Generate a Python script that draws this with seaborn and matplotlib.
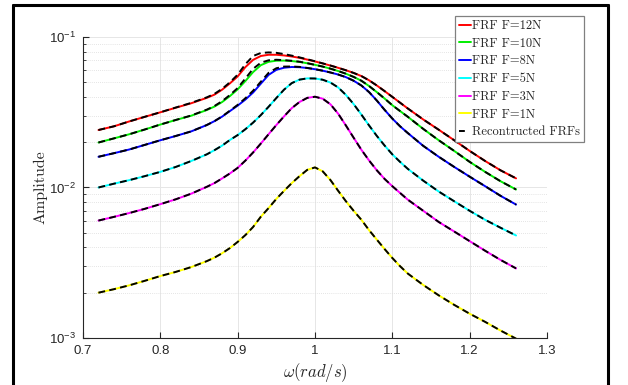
import numpy as np
import pandas as pd
import matplotlib
matplotlib.use("Agg")
import matplotlib.pyplot as plt
from matplotlib.lines import Line2D
from matplotlib.ticker import LogLocator, NullFormatter
import seaborn as sns

# ---------------- data ----------------
freq = [0.72, 0.74, 0.76, 0.78, 0.80, 0.82, 0.84, 0.86, 0.87, 0.88, 0.89, 0.90,
        0.91, 0.92, 0.93, 0.94, 0.95, 0.96, 0.97, 0.98, 0.99, 1.00, 1.01, 1.02,
        1.03, 1.04, 1.05, 1.06, 1.07, 1.08, 1.09, 1.10, 1.11, 1.12, 1.14, 1.16,
        1.18, 1.20, 1.22, 1.24, 1.26]

frf_12N = [0.0241, 0.0255, 0.0275, 0.0295, 0.0316, 0.0339, 0.0363, 0.0394, 0.0414, 0.0447, 0.0492, 0.0547,
           0.0631, 0.0705, 0.0748, 0.0762, 0.0762, 0.0754, 0.0742, 0.0727, 0.0708, 0.0688, 0.0667, 0.0646,
           0.0624, 0.0601, 0.0577, 0.0550, 0.0515, 0.0476, 0.0437, 0.0400, 0.0366, 0.0335, 0.0283, 0.0242,
           0.0206, 0.0175, 0.0150, 0.0130, 0.0115]
frf_10N = [0.0199, 0.0212, 0.0226, 0.0243, 0.0262, 0.0281, 0.0300, 0.0327, 0.0345, 0.0370, 0.0405, 0.0449,
           0.0510, 0.0585, 0.0650, 0.0684, 0.0696, 0.0697, 0.0692, 0.0683, 0.0669, 0.0653, 0.0636, 0.0616,
           0.0594, 0.0570, 0.0543, 0.0512, 0.0472, 0.0430, 0.0390, 0.0352, 0.0322, 0.0295, 0.0245, 0.0206,
           0.0175, 0.0148, 0.0127, 0.0110, 0.0097]
frf_8N = [0.0160, 0.0169, 0.0179, 0.0192, 0.0206, 0.0220, 0.0236, 0.0260, 0.0276, 0.0296, 0.0322, 0.0350,
          0.0384, 0.0428, 0.0490, 0.0560, 0.0605, 0.0625, 0.0632, 0.0630, 0.0622, 0.0611, 0.0597, 0.0581,
          0.0563, 0.0541, 0.0512, 0.0476, 0.0430, 0.0378, 0.0328, 0.0287, 0.0255, 0.0230, 0.0189, 0.0160,
          0.0137, 0.0118, 0.0102, 0.0088, 0.0077]
frf_5N = [0.0100, 0.0106, 0.0112, 0.0119, 0.0127, 0.0137, 0.0150, 0.0166, 0.0177, 0.0190, 0.0207, 0.0223,
          0.0244, 0.0270, 0.0303, 0.0344, 0.0393, 0.0447, 0.0494, 0.0521, 0.0531, 0.0530, 0.0520, 0.0498,
          0.0462, 0.0412, 0.0358, 0.0305, 0.0258, 0.0220, 0.0190, 0.0166, 0.0148, 0.0133, 0.0111, 0.0094,
          0.0081, 0.0070, 0.0061, 0.0054, 0.0048]
frf_3N = [0.00603, 0.00638, 0.00677, 0.00722, 0.00775, 0.00835, 0.0091, 0.0101, 0.0107, 0.0115, 0.0124, 0.0135,
          0.0151, 0.0171, 0.0196, 0.0226, 0.0260, 0.0297, 0.0337, 0.0370, 0.0394, 0.0401, 0.0389, 0.0357,
          0.0309, 0.0258, 0.0214, 0.0178, 0.0151, 0.0130, 0.0114, 0.0102, 0.0092, 0.0083, 0.0070, 0.0059,
          0.0051, 0.0044, 0.0038, 0.0033, 0.0029]
frf_1N = [0.00200, 0.00211, 0.00224, 0.00240, 0.00258, 0.00275, 0.00296, 0.00324, 0.00342, 0.00366, 0.00396, 0.00435,
          0.00483, 0.00547, 0.0064, 0.0073, 0.0084, 0.0095, 0.0107, 0.0119, 0.0131, 0.0136, 0.0128, 0.0112,
          0.0095, 0.0081, 0.0070, 0.0061, 0.0052, 0.0045, 0.0039, 0.0034, 0.0030, 0.00268, 0.00225, 0.00192,
          0.00166, 0.00145, 0.00128, 0.00112, 0.00099]

# reconstructed FRFs (slightly different near the peaks for the large forces)
rec_12N = [0.0241, 0.0255, 0.0275, 0.0295, 0.0316, 0.0340, 0.0365, 0.0397, 0.0419, 0.0453, 0.0500, 0.0562,
           0.0660, 0.0748, 0.0783, 0.0790, 0.0785, 0.0770, 0.0752, 0.0732, 0.0711, 0.0690, 0.0668, 0.0646,
           0.0624, 0.0601, 0.0577, 0.0550, 0.0515, 0.0476, 0.0437, 0.0400, 0.0366, 0.0335, 0.0283, 0.0242,
           0.0206, 0.0175, 0.0150, 0.0130, 0.0115]
rec_10N = [0.0199, 0.0212, 0.0226, 0.0243, 0.0262, 0.0281, 0.0301, 0.0329, 0.0348, 0.0375, 0.0412, 0.0458,
           0.0530, 0.0615, 0.0675, 0.0700, 0.0706, 0.0702, 0.0695, 0.0685, 0.0670, 0.0653, 0.0636, 0.0616,
           0.0594, 0.0570, 0.0543, 0.0512, 0.0472, 0.0430, 0.0390, 0.0352, 0.0322, 0.0295, 0.0245, 0.0206,
           0.0175, 0.0148, 0.0127, 0.0110, 0.0097]
rec_8N = [0.0160, 0.0169, 0.0179, 0.0192, 0.0206, 0.0220, 0.0236, 0.0260, 0.0276, 0.0297, 0.0324, 0.0354,
          0.0392, 0.0440, 0.0505, 0.0578, 0.0620, 0.0636, 0.0637, 0.0633, 0.0623, 0.0611, 0.0597, 0.0581,
          0.0563, 0.0541, 0.0512, 0.0476, 0.0430, 0.0378, 0.0328, 0.0287, 0.0255, 0.0230, 0.0189, 0.0160,
          0.0137, 0.0118, 0.0102, 0.0088, 0.0077]
rec_5N = frf_5N
rec_3N = frf_3N
rec_1N = frf_1N

labels = ["FRF F=12N", "FRF F=10N", "FRF F=8N", "FRF F=5N", "FRF F=3N", "FRF F=1N"]
colors = ["#ff0000", "#00ee00", "#0000ff", "#00ffff", "#ff00ff", "#ffff00"]
rec_label = "Recontructed FRFs"
x_ticks = [0.7, 0.8, 0.9, 1.0, 1.1, 1.2, 1.3]
x_ticklabels = ["0.7", "0.8", "0.9", "1", "1.1", "1.2", "1.3"]

series = [frf_12N, frf_10N, frf_8N, frf_5N, frf_3N, frf_1N]
recs = [rec_12N, rec_10N, rec_8N, rec_5N, rec_3N, rec_1N]

# ---------------- figure ----------------
sns.set_theme(style="white")
plt.rcParams["font.family"] = ["Liberation Sans", "DejaVu Sans"]
plt.rcParams["mathtext.fontset"] = "custom"
plt.rcParams["mathtext.rm"] = "Liberation Sans"
plt.rcParams["mathtext.it"] = "Liberation Sans:italic"

fig = plt.figure(figsize=(6.28, 3.85), dpi=100)
ax = fig.add_axes([83 / 628, 1 - 338 / 385, (547 - 83) / 628, (338 - 37) / 385])

for vals, col in zip(series, colors):
    sns.lineplot(x=freq, y=vals, color=col, lw=1.4, ax=ax, sort=False,
                 estimator=None, legend=False)
for vals in recs:
    sns.lineplot(x=freq, y=vals, color="black", lw=1.4, ax=ax, sort=False,
                 estimator=None, legend=False, linestyle=(0, (3.5, 2.2)))

ax.set_yscale("log")
ax.set_xlim(0.7, 1.3)
ax.set_ylim(1e-3, 1e-1)
ax.set_xticks(x_ticks)
ax.set_xticklabels(x_ticklabels)
ax.yaxis.set_minor_locator(LogLocator(base=10, subs=np.arange(2, 10)))
ax.yaxis.set_minor_formatter(NullFormatter())

ax.grid(True, which="major", color="#e6e6e6", lw=0.7)
ax.grid(True, which="minor", axis="y", color="#dcdcdc", lw=0.6, ls=(0, (1, 1.5)))
ax.set_axisbelow(True)

for s in ["top", "right"]:
    ax.spines[s].set_visible(False)
for s in ["left", "bottom"]:
    ax.spines[s].set_color("#262626")
    ax.spines[s].set_linewidth(0.8)

ax.tick_params(axis="both", which="major", direction="in", length=4, width=0.8,
               color="#262626", labelsize=9.5, labelcolor="#262626", pad=5,
               left=True, bottom=True)
ax.tick_params(axis="y", which="minor", direction="in", length=2.5, width=0.6,
               color="#262626", left=True)

ax.set_ylabel("Amplitude", fontfamily="cmr10", fontsize=11.5, color="#262626", labelpad=1)
ax.set_xlabel(r"$\omega(rad/s)$", math_fontfamily="cm", fontsize=12, color="#262626", labelpad=3)

handles = [Line2D([], [], color=c, lw=1.4) for c in colors]
handles.append(Line2D([], [], color="black", lw=1.4, linestyle=(0, (3, 20))))
leg = fig.legend(handles, labels + [rec_label], loc="upper left",
                 bbox_to_anchor=(455 / 628, 1 - 16 / 385),
                 prop={"family": "cmr10", "size": 9.0},
                 frameon=True, fancybox=False, shadow=False, framealpha=1,
                 edgecolor="#808080", handlelength=1.0, handletextpad=0.1,
                 labelspacing=0.45, borderpad=0.3, borderaxespad=0)
leg.get_frame().set_linewidth(0.9)

# outer black frame
for xs, ys in [([13, 13], [5, 386]), ([13, 608], [5, 5]), ([608, 608], [5, 386])]:
    fig.add_artist(Line2D([x / 628 for x in xs], [1 - y / 385 for y in ys],
                          color="black", lw=2.2, transform=fig.transFigure))

fig.savefig("out.png", dpi=100)
